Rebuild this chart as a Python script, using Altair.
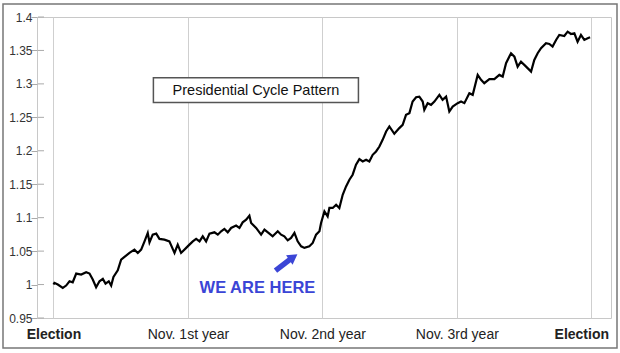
import altair as alt
import pandas as pd

# ---- data (years since election, index value) ----
years = [0.000, 0.007, 0.032, 0.069, 0.094, 0.119, 0.143, 0.169, 0.206, 0.243, 0.268,
         0.292, 0.317, 0.342, 0.367, 0.387, 0.411, 0.429, 0.446, 0.478, 0.503, 0.528,
         0.565, 0.602, 0.627, 0.652, 0.677, 0.701, 0.714, 0.738, 0.764, 0.788, 0.825,
         0.862, 0.900, 0.924, 0.949, 0.987,
         1.011, 1.036, 1.061, 1.086, 1.110, 1.135, 1.160, 1.197, 1.222, 1.247, 1.271,
         1.296, 1.321, 1.358, 1.383, 1.407, 1.433, 1.457, 1.470, 1.507, 1.544, 1.569,
         1.606, 1.630, 1.668, 1.693, 1.717, 1.742, 1.767, 1.792, 1.816, 1.842, 1.866,
         1.903, 1.928, 1.953, 1.978, 1.990, 2.015, 2.039,
         2.052, 2.077, 2.102, 2.126, 2.151, 2.176, 2.201, 2.225, 2.250, 2.275, 2.300,
         2.325, 2.349, 2.374, 2.399, 2.424, 2.448, 2.474, 2.498, 2.535, 2.572, 2.597,
         2.622, 2.647, 2.671, 2.697, 2.721, 2.746, 2.758, 2.783, 2.808, 2.833, 2.870,
         2.894, 2.920, 2.944, 2.969, 3.006,
         3.031, 3.056, 3.093, 3.118, 3.155, 3.180, 3.204, 3.242, 3.279, 3.316, 3.341,
         3.366, 3.403, 3.428, 3.452, 3.477, 3.515, 3.552, 3.576, 3.601, 3.626, 3.663,
         3.688, 3.712, 3.738, 3.762, 3.799, 3.824, 3.849, 3.874, 3.898, 3.923, 3.948,
         3.973, 3.991]
index_values = [1.0000, 1.0025, 1.0000, 0.9950, 0.9985, 1.0050, 1.0034, 1.0164, 1.0149, 1.0184, 1.0164,
                1.0075, 0.9960, 1.0049, 1.0085, 1.0015, 1.0049, 0.9985, 1.0115, 1.0213, 1.0373, 1.0413,
                1.0473, 1.0522, 1.0473, 1.0522, 1.0646, 1.0772, 1.0631, 1.0746, 1.0761, 1.0682, 1.0672,
                1.0646, 1.0473, 1.0597, 1.0473, 1.0548,
                1.0597, 1.0646, 1.0682, 1.0646, 1.0721, 1.0646, 1.0761, 1.0781, 1.0746, 1.0796, 1.0831,
                1.0781, 1.0846, 1.0881, 1.0846, 1.0930, 1.0970, 1.1030, 1.0921, 1.0846, 1.0746, 1.0821,
                1.0761, 1.0721, 1.0796, 1.0746, 1.0721, 1.0661, 1.0697, 1.0772, 1.0646, 1.0572, 1.0548,
                1.0572, 1.0622, 1.0746, 1.0796, 1.0921, 1.1094, 1.1019,
                1.1145, 1.1145, 1.1194, 1.1145, 1.1343, 1.1467, 1.1567, 1.1642, 1.1791, 1.1876, 1.1840,
                1.1866, 1.1840, 1.1940, 1.1990, 1.2064, 1.2164, 1.2288, 1.2363, 1.2254, 1.2339, 1.2388,
                1.2537, 1.2563, 1.2736, 1.2801, 1.2810, 1.2736, 1.2612, 1.2712, 1.2687, 1.2736, 1.2836,
                1.2761, 1.2810, 1.2587, 1.2661, 1.2712,
                1.2736, 1.2712, 1.2861, 1.2836, 1.3134, 1.3060, 1.3010, 1.3070, 1.3070, 1.3134, 1.3109,
                1.3309, 1.3458, 1.3407, 1.3258, 1.3333, 1.3258, 1.3184, 1.3358, 1.3458, 1.3533, 1.3607,
                1.3597, 1.3557, 1.3657, 1.3731, 1.3716, 1.3781, 1.3746, 1.3757, 1.3631, 1.3731, 1.3657,
                1.3682, 1.3697]

x_tick_values = [0, 1, 2, 3, 4]
x_tick_labels = ["Election", "Nov. 1st year", "Nov. 2nd year", "Nov. 3rd year", "Election"]
y_tick_values = [0.95, 1.0, 1.05, 1.1, 1.15, 1.2, 1.25, 1.3, 1.35, 1.4]
y_tick_labels = ["0.95", "1", "1.05", "1.1", "1.15", "1.2", "1.25", "1.3", "1.35", "1.4"]

title_text = "Presidential Cycle Pattern"
title_box = {"x": [0.743], "x2": [2.268], "y": [1.309], "y2": [1.272]}
title_pos = {"x": [1.506], "y": [1.290], "t": [title_text]}
marker_text = "WE ARE HERE"
marker_pos = {"x": [1.517], "y": [0.9955], "t": [marker_text]}
arrow_shaft = {"x": [1.651], "y": [1.0209], "x2": [1.762], "y2": [1.0380]}
arrow_head = {"x": [1.784], "y": [1.0410]}

FONT = "Liberation Sans"
BLUE = "#3b45d6"

df = pd.DataFrame({"year": years, "value": index_values})

x_scale = alt.Scale(domain=[-0.1227, 4.1465], nice=False, zero=False)
y_scale = alt.Scale(domain=[0.95, 1.4], nice=False, zero=False)

x_label_expr = "[" + ",".join("'" + s + "'" for s in x_tick_labels) + "][datum.value]"
y_label_expr = "[" + ",".join("'" + s + "'" for s in y_tick_labels) + "][round((datum.value - 0.95) * 20)]"

x_axis = alt.Axis(
    values=x_tick_values, labelExpr=x_label_expr, title=None, grid=True,
    gridColor="#cfcfcf", gridWidth=1, domain=False, ticks=False, tickSize=0,
    labelPadding=9, labelFontSize=14, labelColor="#222222", labelFont=FONT,
    labelOverlap=False, labelFlush=False,
    labelFontWeight={"condition": {"test": "datum.value == 0 || datum.value == 4", "value": "bold"}, "value": "normal"},
    labelOffset={"condition": {"test": "datum.value == 4", "value": -10}, "value": 0},
)
y_axis = alt.Axis(
    values=y_tick_values, labelExpr=y_label_expr, title=None, grid=False, domain=False,
    tickSize=6, tickColor="#aaaaaa", tickWidth=1, labelPadding=-1,
    labelFontSize=12, labelColor="#333333", labelFont=FONT,
    labelOverlap=False, labelFlush=False, labelBound=False, tickCount=10,
)

frame = alt.Chart(pd.DataFrame({"a": [0]})).mark_rect(
    fillOpacity=0, stroke="#777777", strokeWidth=1.5
).encode(x=alt.value(-34), x2=alt.value(580), y=alt.value(-13), y2=alt.value(331))

line = alt.Chart(df).mark_line(color="black", strokeWidth=2.2).encode(
    x=alt.X("year:Q", scale=x_scale, axis=x_axis),
    y=alt.Y("value:Q", scale=y_scale, axis=y_axis),
)

ytick_df = pd.DataFrame({"v": y_tick_values})
yticks = alt.Chart(ytick_df).mark_rule(color="#aaaaaa", strokeWidth=1).encode(
    y=alt.Y("v:Q", scale=y_scale), x=alt.value(1), x2=alt.value(7)
)

box = alt.Chart(pd.DataFrame(title_box)).mark_rect(
    fill="white", stroke="#555555", strokeWidth=1.5
).encode(x=alt.X("x:Q", scale=x_scale), x2="x2:Q", y=alt.Y("y:Q", scale=y_scale), y2="y2:Q")

title = alt.Chart(pd.DataFrame(title_pos)).mark_text(
    font=FONT, fontSize=14.5, color="#111111"
).encode(x=alt.X("x:Q", scale=x_scale), y=alt.Y("y:Q", scale=y_scale), text="t:N")

marker = alt.Chart(pd.DataFrame(marker_pos)).mark_text(
    font=FONT, fontSize=16.5, fontWeight="bold", color=BLUE
).encode(x=alt.X("x:Q", scale=x_scale), y=alt.Y("y:Q", scale=y_scale), text="t:N")

shaft = alt.Chart(pd.DataFrame(arrow_shaft)).mark_rule(
    color=BLUE, strokeWidth=5.5, strokeCap="butt"
).encode(x=alt.X("x:Q", scale=x_scale), y=alt.Y("y:Q", scale=y_scale), x2="x2:Q", y2="y2:Q")

head = alt.Chart(pd.DataFrame(arrow_head)).mark_point(
    shape="triangle-up", filled=True, color=BLUE, size=130, angle=55, opacity=1
).encode(x=alt.X("x:Q", scale=x_scale), y=alt.Y("y:Q", scale=y_scale))

chart = alt.layer(frame, yticks, line, box, title, marker, shaft, head).properties(
    width=574, height=301,
    padding={"left": 37, "top": 17, "right": 9, "bottom": 35},
    autosize=alt.AutoSizeParams(type="none"),
    background="white",
).configure_view(stroke="#c8c8c8", strokeWidth=1)

chart.save("out.html", embed_options={"renderer": "svg", "actions": False})
